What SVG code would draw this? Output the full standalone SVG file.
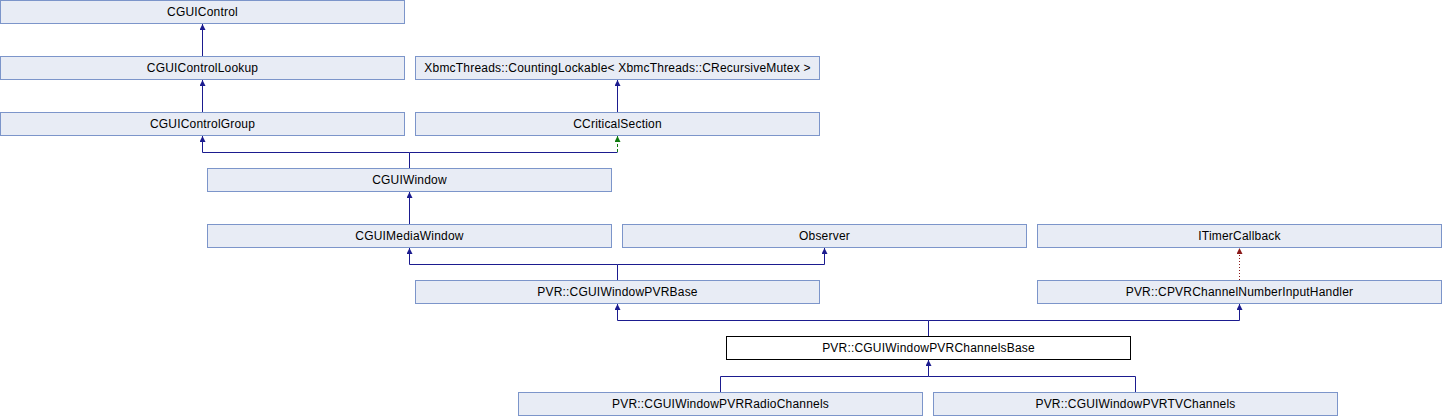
<svg xmlns="http://www.w3.org/2000/svg" width="1442" height="416" viewBox="0 0 1442 416">
<style>
  .n rect { fill: #E8ECF5; stroke: #7C95CA; stroke-width: 1; }
  .n.cur rect { fill: #FFFFFF; stroke: #000000; }
  .n text { font-family: "Liberation Sans", Arial, sans-serif; font-size: 12px; letter-spacing: 0.2px; fill: #000000; text-anchor: middle; }
  .e { fill: none; stroke: #1B1B8F; stroke-width: 1; }
  .e.prot { stroke: #0F7A0F; stroke-dasharray: 3,2; }
  .e.priv { stroke: #8B1A1A; stroke-dasharray: 1,2; }
</style>
<defs>
  <marker id="ab" viewBox="0 0 10 10" refX="10" refY="5" markerUnits="userSpaceOnUse" markerWidth="7" markerHeight="6" orient="auto">
    <path d="M0,0 L10,5 L0,10 z" fill="#1B1B8F"/>
  </marker>
  <marker id="ag" viewBox="0 0 10 10" refX="10" refY="5" markerUnits="userSpaceOnUse" markerWidth="7" markerHeight="6" orient="auto">
    <path d="M0,0 L10,5 L0,10 z" fill="#0F7A0F"/>
  </marker>
  <marker id="ar" viewBox="0 0 10 10" refX="10" refY="5" markerUnits="userSpaceOnUse" markerWidth="7" markerHeight="6" orient="auto">
    <path d="M0,0 L10,5 L0,10 z" fill="#8B1A1A"/>
  </marker>
</defs>
<g id="connectors">
  <path class="e" d="M202.5,56 V24" marker-end="url(#ab)"/>
  <path class="e" d="M202.5,112 V80" marker-end="url(#ab)"/>
  <path class="e" d="M617.5,112 V80" marker-end="url(#ab)"/>
  <path class="e" d="M409.5,168 V152.5 H202.5 V136" marker-end="url(#ab)"/>
  <path class="e" d="M409.5,152.5 H617.5"/>
  <path class="e prot" d="M617.5,152 V136" marker-end="url(#ag)"/>
  <path class="e" d="M409.5,224 V192" marker-end="url(#ab)"/>
  <path class="e" d="M617.5,280 V264.5 H409.5 V248" marker-end="url(#ab)"/>
  <path class="e" d="M617.5,264.5 H824.5 V248" marker-end="url(#ab)"/>
  <path class="e priv" d="M1239.5,280 V248" marker-end="url(#ar)"/>
  <path class="e" d="M928.5,336 V320.5 H617.5 V304" marker-end="url(#ab)"/>
  <path class="e" d="M928.5,320.5 H1239.5 V304" marker-end="url(#ab)"/>
  <path class="e" d="M720.5,392 V376.5 H928.5 V360" marker-end="url(#ab)"/>
  <path class="e" d="M1135.5,392 V376.5 H928.5"/>
</g>
<g id="CGUIControl" class="n"><rect x="0.5" y="0.5" width="404" height="23"/><text x="202.5" y="16">CGUIControl</text></g>
<g id="CGUIControlLookup" class="n"><rect x="0.5" y="56.5" width="404" height="23"/><text x="202.5" y="72">CGUIControlLookup</text></g>
<g id="CGUIControlGroup" class="n"><rect x="0.5" y="112.5" width="404" height="23"/><text x="202.5" y="128">CGUIControlGroup</text></g>
<g id="CountingLockable" class="n"><rect x="415.5" y="56.5" width="404" height="23"/><text x="617.5" y="72">XbmcThreads::CountingLockable&lt; XbmcThreads::CRecursiveMutex &gt;</text></g>
<g id="CCriticalSection" class="n"><rect x="415.5" y="112.5" width="404" height="23"/><text x="617.5" y="128">CCriticalSection</text></g>
<g id="CGUIWindow" class="n"><rect x="207.5" y="168.5" width="404" height="23"/><text x="409.5" y="184">CGUIWindow</text></g>
<g id="CGUIMediaWindow" class="n"><rect x="207.5" y="224.5" width="404" height="23"/><text x="409.5" y="240">CGUIMediaWindow</text></g>
<g id="Observer" class="n"><rect x="622.5" y="224.5" width="404" height="23"/><text x="824.5" y="240">Observer</text></g>
<g id="ITimerCallback" class="n"><rect x="1037.5" y="224.5" width="404" height="23"/><text x="1239.5" y="240">ITimerCallback</text></g>
<g id="CGUIWindowPVRBase" class="n"><rect x="415.5" y="280.5" width="404" height="23"/><text x="617.5" y="296">PVR::CGUIWindowPVRBase</text></g>
<g id="CPVRChannelNumberInputHandler" class="n"><rect x="1037.5" y="280.5" width="404" height="23"/><text x="1239.5" y="296">PVR::CPVRChannelNumberInputHandler</text></g>
<g id="CGUIWindowPVRChannelsBase" class="n cur"><rect x="726.5" y="336.5" width="404" height="23"/><text x="928.5" y="352">PVR::CGUIWindowPVRChannelsBase</text></g>
<g id="CGUIWindowPVRRadioChannels" class="n"><rect x="518.5" y="392.5" width="404" height="23"/><text x="720.5" y="408">PVR::CGUIWindowPVRRadioChannels</text></g>
<g id="CGUIWindowPVRTVChannels" class="n"><rect x="933.5" y="392.5" width="404" height="23"/><text x="1135.5" y="408">PVR::CGUIWindowPVRTVChannels</text></g>
</svg>
